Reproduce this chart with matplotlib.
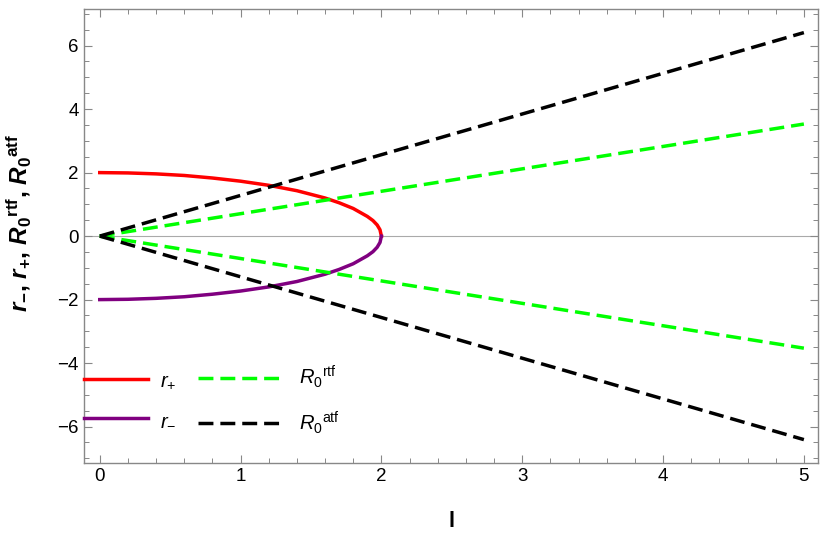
import matplotlib
matplotlib.use("Agg")
import matplotlib.pyplot as plt
from matplotlib.ticker import MultipleLocator

plt.rcParams['font.family'] = ['Liberation Sans', 'DejaVu Sans']
plt.rcParams['mathtext.fontset'] = 'custom'
plt.rcParams['mathtext.rm'] = 'Liberation Sans'
plt.rcParams['mathtext.it'] = 'Liberation Sans:italic'
plt.rcParams['mathtext.bf'] = 'Liberation Sans:bold'
plt.rcParams['mathtext.bfit'] = 'Liberation Sans:italic:bold'

# r+ / r- branches
l_circ = [0.0, 0.2, 0.4, 0.6, 0.8, 1.0, 1.2, 1.4, 1.6, 1.7, 1.8, 1.9, 1.94, 1.97, 1.99, 2.0]
r_plus = [2.0, 1.99, 1.96, 1.91, 1.83, 1.73, 1.6, 1.43, 1.2, 1.05, 0.87, 0.62, 0.49, 0.35, 0.2, 0.0]
r_minus = [-2.0, -1.99, -1.96, -1.91, -1.83, -1.73, -1.6, -1.43, -1.2, -1.05, -0.87, -0.62, -0.49, -0.35, -0.2, 0.0]

# straight dashed lines (end points)
l_line = [0.0, 5.0]
rtf_up = [0.0, 3.53]
rtf_dn = [0.0, -3.53]
atf_up = [0.0, 6.41]
atf_dn = [0.0, -6.41]

fig = plt.figure(figsize=(8.3, 5.36), dpi=100)
ax = fig.add_axes([0.101, 0.136, 0.8845, 0.847])

ax.axhline(0, color='#aaaaaa', lw=0.8, zorder=0)

lw = 2.5
dash = (4.3, 2.0)
p1, = ax.plot(l_circ, r_plus, color='#ff0000', lw=lw)
p2, = ax.plot(l_circ, r_minus, color='#800080', lw=lw)
p3, = ax.plot(l_line, rtf_up, color='#00ff00', lw=lw, dashes=dash)
ax.plot(l_line, rtf_dn, color='#00ff00', lw=lw, dashes=dash)
p4, = ax.plot(l_line, atf_up, color='black', lw=lw, dashes=dash)
ax.plot(l_line, atf_dn, color='black', lw=lw, dashes=dash)

ax.set_xlim(-0.113, 5.1)
ax.set_ylim(-7.15, 7.15)
ax.xaxis.set_major_locator(MultipleLocator(1))
ax.xaxis.set_minor_locator(MultipleLocator(0.2))
ax.yaxis.set_major_locator(MultipleLocator(2))
ax.yaxis.set_minor_locator(MultipleLocator(0.5))
ax.tick_params(which='both', direction='in', top=True, right=True, color='#888888',
               labelsize=13.5, labelcolor='black')
ax.tick_params(which='major', length=6, width=0.8)
ax.tick_params(which='minor', length=3.5, width=0.7)
for s in ax.spines.values():
    s.set_color('#888888')
    s.set_linewidth(1.0)

ax.set_xlabel(r'$\mathbf{l}$', fontsize=16)
ax.xaxis.set_label_coords(0.501, -0.105)
ax.set_ylabel(r'$\mathbfit{r}_{\mathbf{-}}\mathbf{,}\ \mathbfit{r}_{\mathbf{+}}\mathbf{,}\ '
              r'\mathbfit{R}_{\mathbf{0}}{}^{\mathbf{rtf}}\mathbf{,}\ \mathbfit{R}_{\mathbf{0}}{}^{\mathbf{atf}}$',
              fontsize=17.5)
ax.yaxis.set_label_coords(-0.068, 0.53)

leg1 = ax.legend([p1, p2], [r'$r_{+}$', r'$r_{-}$'], loc='center left',
                 bbox_to_anchor=(0.0, 0.139), frameon=False, fontsize=14.5,
                 handlelength=3.2, handletextpad=0.6, labelspacing=0.95,
                 borderpad=0, borderaxespad=0)
ax.add_artist(leg1)
ax.legend([p3, p4], [r'$R_0{}^{\mathrm{rtf}}$', r'$R_0{}^{\mathrm{atf}}$'], loc='center left',
          bbox_to_anchor=(0.155, 0.139), frameon=False, fontsize=14.5,
          handlelength=4.3, handletextpad=0.75, labelspacing=0.95,
          borderpad=0, borderaxespad=0)

fig.savefig('out.png', dpi=100)
